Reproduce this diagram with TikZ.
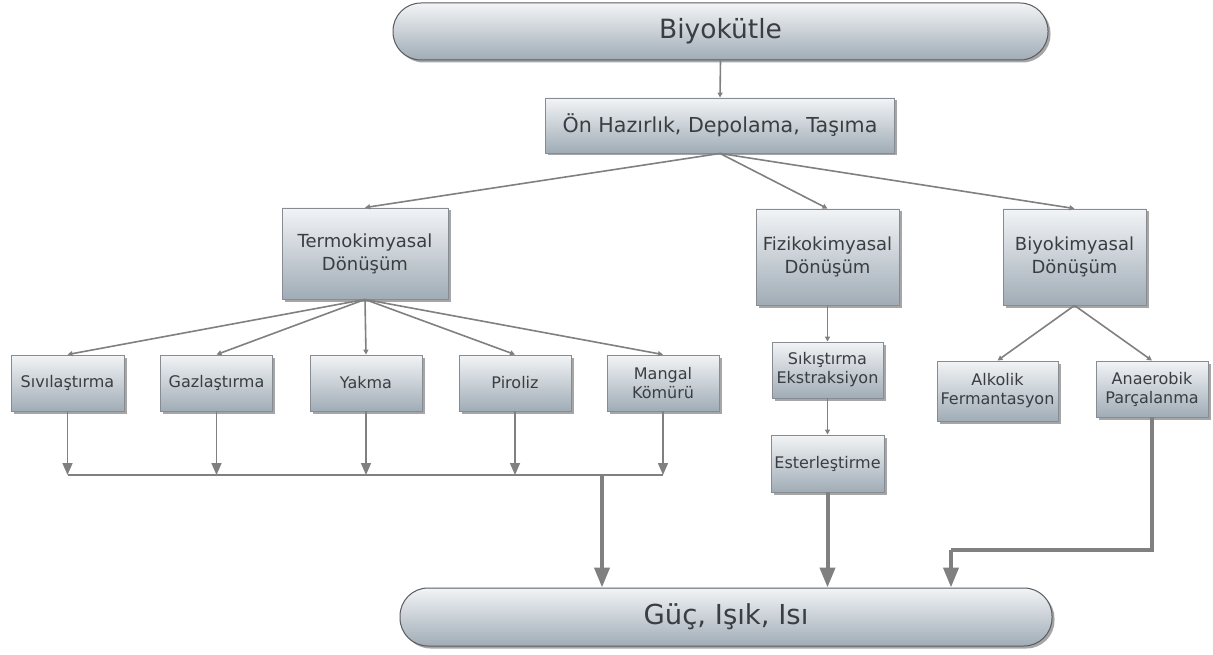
\documentclass[tikz,border=0pt]{standalone}
\usepackage{fontspec}
\setmainfont{DejaVu Sans}
\usetikzlibrary{arrows.meta,shadows}
\definecolor{boxtop}{RGB}{242,244,246}
\definecolor{boxbot}{RGB}{160,172,182}
\definecolor{boxedge}{RGB}{135,140,146}
\definecolor{pilledge}{RGB}{90,92,95}
\definecolor{txt}{RGB}{58,62,66}
\definecolor{conn}{RGB}{128,128,128}
\begin{document}
\begin{tikzpicture}[x=1pt,y=-1pt,
  box/.style={draw=boxedge, line width=0.9pt, top color=boxtop, bottom color=boxbot,
    text=txt, align=center, inner sep=0pt,
    drop shadow={shadow xshift=2.5pt, shadow yshift=-2.5pt, fill=black, opacity=0.35}},
  pill/.style={box, draw=pilledge, line width=1pt, rounded corners=28pt},
  lvtwo/.style={box, font=\fontsize{18}{23}\selectfont},
  lvthree/.style={box, font=\fontsize{16}{19}\selectfont},
  thin/.style={draw=conn, line width=1.6pt, -{Triangle[length=5pt,width=5pt]}},
  mid/.style={draw=conn, line width=1.6pt, -{Triangle[length=12pt,width=10pt]}},
  plain/.style={draw=conn, line width=1.6pt},
  thick/.style={draw=conn, line width=4pt, -{Triangle[length=20pt,width=15pt]}},
  thickline/.style={draw=conn, line width=4pt}
]
\useasboundingbox (0,0) rectangle (1213,655);

\node[pill, font=\fontsize{26.5}{30}\selectfont, minimum width=655pt, minimum height=57pt] (bio) at (720.5,31.5) {Biyokütle};
\node[box, font=\fontsize{20.6}{24}\selectfont, minimum width=349pt, minimum height=55pt] (on) at (720,125.5) {Ön Hazırlık, Depolama, Taşıma};

\node[lvtwo, minimum width=166pt, minimum height=91pt] (termo) at (365,253.5) {Termokimyasal\\Dönüşüm};
\node[lvtwo, minimum width=143pt, minimum height=96pt] (fiz) at (827.5,257) {Fizikokimyasal\\Dönüşüm};
\node[lvtwo, minimum width=143pt, minimum height=96pt] (biy) at (1074.5,257) {Biyokimyasal\\Dönüşüm};

\node[lvthree, minimum width=113pt, minimum height=56pt] (siv) at (67.5,383) {Sıvılaştırma};
\node[lvthree, minimum width=112pt, minimum height=56pt] (gaz) at (216.5,383) {Gazlaştırma};
\node[lvthree, minimum width=112pt, minimum height=56pt] (yak) at (366,383) {Yakma};
\node[lvthree, minimum width=112pt, minimum height=56pt] (pir) at (515,383) {Piroliz};
\node[lvthree, minimum width=112pt, minimum height=56pt] (man) at (663,383) {Mangal\\Kömürü};

\node[lvthree, minimum width=111pt, minimum height=56pt] (sik) at (827.5,370) {Sıkıştırma\\Ekstraksiyon};
\node[lvthree, minimum width=113pt, minimum height=57pt] (est) at (827.5,463.5) {Esterleştirme};
\node[lvthree, minimum width=121pt, minimum height=60pt] (alk) at (997.5,391) {Alkolik\\Fermantasyon};
\node[lvthree, minimum width=112pt, minimum height=56pt] (ana) at (1152,389) {Anaerobik\\Parçalanma};

\node[pill, font=\fontsize{27.5}{31}\selectfont, minimum width=652pt, minimum height=58pt] (guc) at (726,617) {Güç, Işık, Isı};

% connectors
\draw[thin] (bio.south) -- (on.north);
\draw[thin] (on.south) -- (termo.north);
\draw[thin] (on.south) -- (fiz.north);
\draw[thin] (on.south) -- (biy.north);
\foreach \n in {siv,gaz,yak,pir,man} \draw[thin] (termo.south) -- (\n.north);
\draw[thin] (fiz.south) -- (sik.north);
\draw[thin] (sik.south) -- (est.north);
\draw[thin] (biy.south) -- (alk.north);
\draw[thin] (biy.south) -- (ana.north);

\coordinate (hl) at (67.5,475);
\coordinate (hr) at (663,475);
\coordinate (tj) at (602,475);
\foreach \n in {siv,gaz,yak,pir,man} \draw[mid] (\n.south) -- (\n.south |- hl);
\draw[plain] (hl) -- (hr);
\draw[thick] (tj) -- (tj |- guc.north);
\draw[thick] (est.south) -- (est.south |- guc.north);
\coordinate (a1) at (1152,550);
\coordinate (a2) at (951,550);
\draw[thickline] (ana.south) -- (a1) -- (a2);
\draw[thick] (a2) -- (a2 |- guc.north);
\end{tikzpicture}
\end{document}
